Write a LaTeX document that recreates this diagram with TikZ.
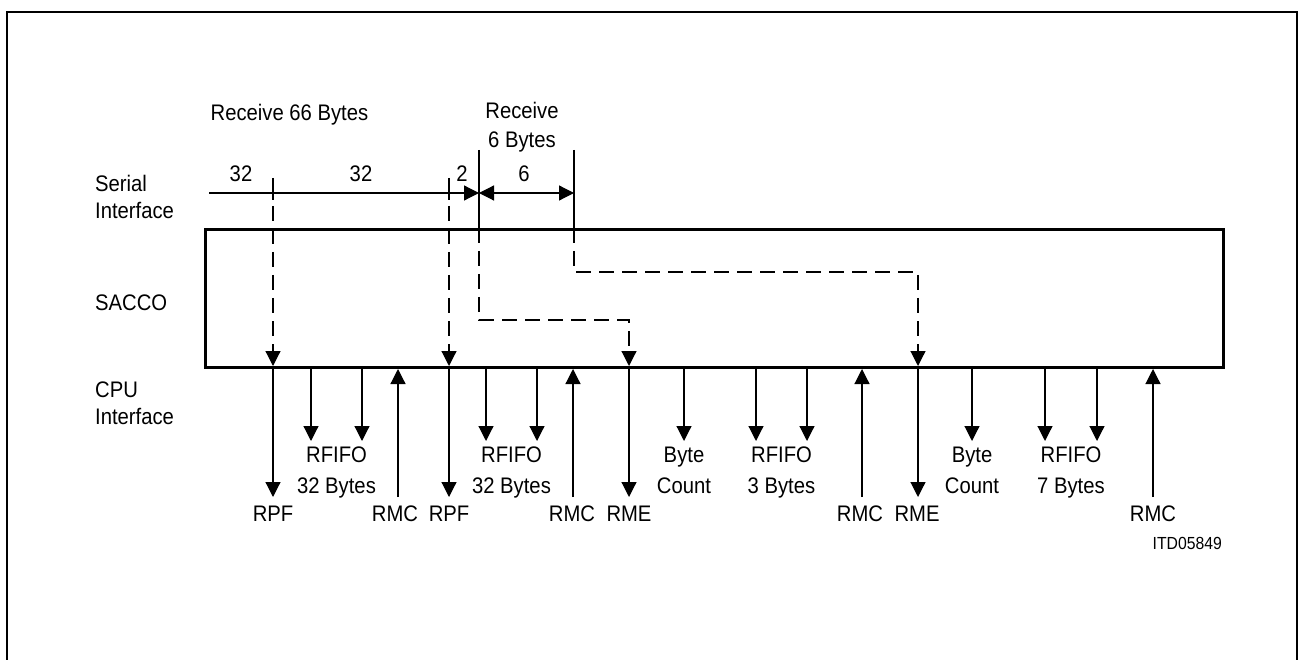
\documentclass[tikz,border=0pt]{standalone}
\usepackage{fontspec}
\setmainfont{Liberation Sans}[FakeStretch=0.9]
\usetikzlibrary{arrows.meta}
\tikzset{
  thinline/.style={line width=1.2pt},
  tipped/.style={thinline,-{Triangle[length=15pt,width=15pt]}},
  dbltipped/.style={thinline,{Triangle[length=15pt,width=15pt]}-{Triangle[length=15pt,width=15pt]}},
  dashline/.style={thinline,dash pattern=on 15pt off 8pt},
  dashtipped/.style={dashline,-{Triangle[length=15pt,width=15pt]}},
  lab/.style={font=\fontsize{22.5}{29}\selectfont,inner sep=0pt,align=center,anchor=north},
  labl/.style={font=\fontsize{22.5}{27}\selectfont,inner sep=0pt,align=left,anchor=north west},
  labtwo/.style={font=\fontsize{22.5}{31}\selectfont,inner sep=0pt,align=center,anchor=north},
  framebox/.style={line width=3pt},
  outer/.style={line width=2pt}
}
\begin{document}
\begin{tikzpicture}[x=1pt,y=-1pt]
\useasboundingbox (0,0) rectangle (1298,660);
% outer frame (open at bottom)
\draw[outer] (7,662) -- (7,12) -- (1297,12) -- (1297,662);
% SACCO box
\node[framebox,draw,minimum width=1018pt,minimum height=138pt,inner sep=0pt,anchor=north west] (sacco) at (204,228) {};
% left labels
\node[labl] (serlab) at (95,175) {Serial\\Interface};
\node[labl] (saclab) at (95,295) {SACCO};
\node[labl] (cpulab) at (95,382) {CPU\\Interface};
% top labels
\node[lab] (rec66) at (289.5,104) {Receive 66 Bytes};
\node[lab] (rec6) at (522,102) {Receive\\6 Bytes};
\node[lab] (n32a) at (241,166) {32};
\node[lab] (n32b) at (361,166) {32};
\node[lab] (n2) at (462,166) {2};
\node[lab] (n6) at (524,166) {6};
% serial coordinates
\coordinate (sstart) at (209,193);
\coordinate (sA) at (479,193);
\coordinate (sB) at (574,193);
\coordinate (vAtop) at (479,150);
\coordinate (vBtop) at (574,150);
\coordinate (vAbox) at (479,228);
\coordinate (vBbox) at (574,228);
\coordinate (tk1top) at (273,178);
\coordinate (tk1bot) at (273,200);
\coordinate (tk2top) at (449,178);
\coordinate (tk2bot) at (449,200);
\coordinate (tk1dash) at (273,206);
\coordinate (tk2dash) at (449,206);
\coordinate (rpf1in) at (273,366);
\coordinate (rpf2in) at (449,366);
\coordinate (bendA1) at (479,320);
\coordinate (bendA2) at (629,320);
\coordinate (rme1in) at (629,366);
\coordinate (bendB1) at (574,272);
\coordinate (bendB2) at (918,272);
\coordinate (rme2in) at (918,366);
% serial line
\draw[tipped] (sstart) -- (sA);
\draw[dbltipped] (sA) -- (sB);
\draw[thinline] (vAtop) -- (vAbox);
\draw[thinline] (vBtop) -- (vBbox);
\draw[thinline] (tk1top) -- (tk1bot);
\draw[thinline] (tk2top) -- (tk2bot);
% dashed paths
\draw[dashtipped] (tk1dash) -- (rpf1in);
\draw[dashtipped] (tk2dash) -- (rpf2in);
\draw[dashtipped] (vAbox) -- (bendA1) -- (bendA2) -- (rme1in);
\draw[dashtipped] (vBbox) -- (bendB1) -- (bendB2) -- (rme2in);
% bottom arrows
\foreach \nm/\x in {rpfa/273,rpfb/449,rmea/629,rmeb/918}{
  \coordinate (\nm s) at (\x,366);
  \coordinate (\nm e) at (\x,497);
  \draw[tipped] (\nm s) -- (\nm e);
}
\foreach \nm/\x in {fa/311,fb/362,fc/486,fd/537,bca/684,fe/756,ff/807,bcb/972,fg/1045,fh/1097}{
  \coordinate (\nm s) at (\x,366);
  \coordinate (\nm e) at (\x,441);
  \draw[tipped] (\nm s) -- (\nm e);
}
\foreach \nm/\x in {rmca/398,rmcb/573,rmcc/862,rmcd/1153}{
  \coordinate (\nm s) at (\x,497);
  \coordinate (\nm e) at (\x,369);
  \draw[tipped] (\nm s) -- (\nm e);
}
% bottom labels
\node[lab] (lrpfa) at (273,506) {RPF};
\node[lab] (lrmca) at (395,506) {RMC};
\node[lab] (lrpfb) at (449,506) {RPF};
\node[lab] (lrmcb) at (572,506) {RMC};
\node[lab] (lrmea) at (629,506) {RME};
\node[lab] (lrmcc) at (860,506) {RMC};
\node[lab] (lrmeb) at (917,506) {RME};
\node[lab] (lrmcd) at (1153,506) {RMC};
\node[labtwo] (lf1) at (336.5,447) {RFIFO\\32 Bytes};
\node[labtwo] (lf2) at (511.5,447) {RFIFO\\32 Bytes};
\node[labtwo] (lbc1) at (684,447) {Byte\\Count};
\node[labtwo] (lf3) at (781.5,447) {RFIFO\\3 Bytes};
\node[labtwo] (lbc2) at (972,447) {Byte\\Count};
\node[labtwo] (lf4) at (1071,447) {RFIFO\\7 Bytes};
\node[font=\fontsize{17.5}{20}\selectfont,inner sep=0pt,anchor=north east] (itd) at (1222,537) {ITD05849};
\end{tikzpicture}
\end{document}
